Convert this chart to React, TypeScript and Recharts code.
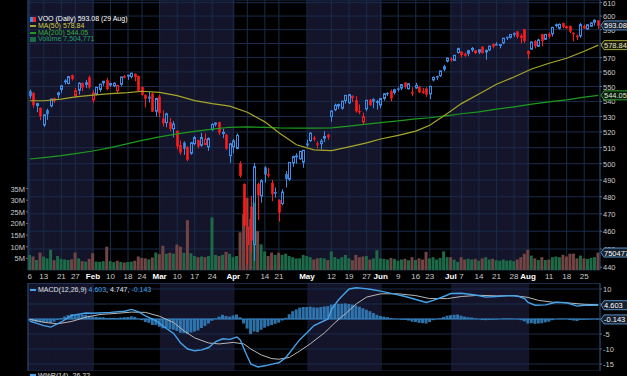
import React from 'react';
import {
  ComposedChart,
  Bar,
  Line,
  XAxis,
  YAxis,
  CartesianGrid,
  ReferenceLine,
  Cell,
} from 'recharts';

// ---------- data (VOO daily, Jan - Aug 2025) ----------
const MONTHS = ['Jan', 'Feb', 'Mar', 'Apr', 'May', 'Jun', 'Jul', 'Aug'];
const TRADING_DAYS = [
  [6, 7, 8, 10, 13, 14, 15, 16, 17, 21, 22, 23, 24, 27, 28, 29, 30, 31],
  [3, 4, 5, 6, 7, 10, 11, 12, 13, 14, 18, 19, 20, 21, 24, 25, 26, 27, 28],
  [3, 4, 5, 6, 7, 10, 11, 12, 13, 14, 17, 18, 19, 20, 21, 24, 25, 26, 27, 28, 31],
  [1, 2, 3, 4, 7, 8, 9, 10, 11, 14, 15, 16, 17, 21, 22, 23, 24, 25, 28, 29, 30],
  [1, 2, 5, 6, 7, 8, 9, 12, 13, 14, 15, 16, 19, 20, 21, 22, 23, 27, 28, 29, 30],
  [2, 3, 4, 5, 6, 9, 10, 11, 12, 13, 16, 17, 18, 20, 23, 24, 25, 26, 27, 30],
  [1, 2, 3, 7, 8, 9, 10, 11, 14, 15, 16, 17, 18, 21, 22, 23, 24, 25, 28, 29, 30, 31],
  [1, 4, 5, 6, 7, 8, 11, 12, 13, 14, 15, 18, 19, 20, 21, 22, 25, 26, 27, 28, 29],
];
const PREV_CLOSE = 540.6;

// open, high, low, close
const CANDLES: [number, number, number, number][] = [
  // Jan
  [546.5, 548.0, 541.8, 543.7], [545.5, 546.2, 535.8, 537.7], [537.2, 539.0, 532.8, 538.5],
  [535.5, 536.0, 527.5, 530.3], [524.5, 531.5, 523.2, 531.1], [534.0, 535.2, 527.8, 531.6],
  [537.0, 542.0, 536.0, 541.5], [541.8, 542.5, 539.0, 540.3], [544.5, 546.5, 542.0, 545.7],
  [548.0, 551.0, 545.5, 550.5], [553.5, 555.0, 551.5, 553.8], [552.0, 556.8, 551.5, 556.8],
  [557.5, 558.2, 554.0, 555.2], [544.0, 549.0, 542.3, 547.1], [547.5, 553.0, 544.5, 552.2],
  [552.0, 552.8, 546.8, 549.5], [551.5, 554.5, 549.0, 552.5], [556.0, 557.5, 548.5, 549.6],
  // Feb
  [541.0, 547.5, 539.0, 545.5], [545.0, 549.8, 544.0, 549.4], [548.0, 551.8, 546.2, 551.6],
  [552.5, 553.8, 550.5, 553.6], [554.0, 555.8, 547.5, 548.4], [551.0, 552.5, 549.8, 552.0],
  [550.5, 552.8, 549.5, 552.2], [547.2, 551.2, 545.0, 550.7], [551.5, 556.8, 550.0, 556.5],
  [556.8, 558.0, 555.5, 556.4], [557.5, 558.0, 554.5, 557.7], [556.8, 559.5, 555.5, 559.1],
  [558.5, 559.0, 553.5, 556.6], [557.0, 557.5, 546.5, 547.2], [549.5, 550.0, 543.8, 544.5],
  [544.0, 544.8, 536.0, 541.9], [543.0, 546.5, 539.2, 542.0], [545.0, 546.0, 533.0, 533.4],
  [533.5, 542.5, 530.0, 541.9],
  // Mar
  [543.0, 544.5, 529.5, 532.4], [528.5, 534.0, 523.5, 525.8], [526.0, 532.5, 523.0, 531.7],
  [526.0, 529.0, 520.5, 522.2], [522.0, 527.0, 516.5, 525.1], [520.5, 521.0, 509.0, 511.0],
  [511.5, 514.5, 505.5, 507.1], [513.0, 514.0, 505.5, 509.5], [510.0, 511.0, 501.5, 502.5],
  [506.5, 513.5, 505.5, 513.1], [512.5, 517.5, 511.5, 516.4], [514.5, 515.0, 509.5, 511.0],
  [511.5, 519.5, 510.5, 516.4], [512.0, 519.0, 511.5, 515.3], [510.5, 516.5, 508.0, 515.8],
  [521.5, 525.5, 520.5, 524.9], [525.0, 526.2, 523.5, 525.7], [526.0, 526.5, 518.0, 519.8],
  [519.0, 522.0, 516.0, 519.8], [518.0, 518.8, 508.5, 509.5], [505.0, 513.0, 500.5, 512.4],
  // Apr
  [510.5, 515.5, 506.5, 514.3], [509.5, 519.0, 509.0, 517.8], [500.0, 501.5, 491.5, 492.7],
  [487.5, 488.0, 462.5, 463.3], [452.5, 479.0, 441.5, 462.2], [474.0, 480.5, 448.0, 454.9],
  [452.5, 500.5, 443.5, 498.2], [487.5, 488.5, 466.5, 481.0], [480.5, 490.5, 476.5, 489.6],
  [497.5, 498.5, 488.5, 493.6], [493.5, 497.5, 491.5, 492.7], [488.0, 490.0, 477.5, 481.7],
  [482.5, 485.5, 479.5, 482.3], [478.0, 478.5, 465.5, 470.9], [476.0, 484.5, 475.0, 482.8],
  [493.5, 495.5, 485.5, 490.8], [490.5, 501.0, 489.5, 500.8], [500.5, 505.0, 498.0, 504.4],
  [504.5, 506.5, 500.0, 504.8], [503.0, 508.0, 502.5, 507.7], [501.0, 508.5, 497.5, 508.4],
  // May
  [512.5, 515.0, 510.5, 511.6], [514.5, 519.8, 513.5, 519.2], [516.0, 517.5, 514.0, 515.8],
  [512.5, 514.0, 509.5, 511.9], [512.5, 515.5, 509.0, 514.1], [516.0, 520.5, 513.5, 517.1],
  [518.0, 518.8, 515.0, 516.8], [530.0, 534.0, 526.5, 533.6], [534.5, 538.5, 533.5, 537.4],
  [537.0, 538.5, 535.0, 537.9], [535.5, 540.5, 534.5, 540.1], [540.5, 544.2, 538.5, 544.0],
  [539.0, 544.8, 538.5, 544.5], [543.5, 544.0, 539.5, 542.3], [540.5, 543.5, 532.5, 533.6],
  [533.5, 538.0, 531.5, 533.4], [526.5, 532.5, 525.0, 529.7], [535.0, 541.0, 533.5, 540.7],
  [541.0, 541.5, 537.0, 537.7], [541.5, 542.0, 535.5, 539.8], [539.5, 541.0, 534.5, 539.8],
  // Jun
  [537.5, 542.0, 535.5, 541.9], [542.0, 545.5, 540.5, 545.1], [545.5, 546.2, 543.5, 545.1],
  [546.5, 548.0, 540.0, 542.2], [546.0, 548.5, 544.5, 547.8], [548.5, 549.5, 546.5, 548.3],
  [549.0, 551.8, 547.5, 551.3], [552.5, 553.0, 548.5, 549.8], [548.5, 552.0, 548.0, 551.9],
  [546.0, 549.5, 543.5, 545.7], [549.0, 552.5, 548.5, 550.8], [549.5, 550.5, 545.5, 546.2],
  [546.5, 549.0, 545.0, 546.1], [548.5, 549.5, 543.0, 544.8], [545.0, 550.5, 541.5, 550.1],
  [554.5, 556.8, 553.5, 556.2], [557.0, 557.5, 554.5, 556.2], [557.5, 561.0, 556.5, 560.7],
  [562.0, 565.0, 560.5, 563.6], [567.5, 570.0, 566.5, 569.6],
  // Jul
  [569.0, 570.2, 567.0, 569.0], [568.0, 571.8, 567.5, 571.6], [573.5, 577.0, 573.0, 576.4],
  [574.0, 574.5, 570.0, 571.9], [572.5, 573.5, 570.5, 571.5], [573.0, 575.5, 571.0, 574.9],
  [575.5, 577.5, 574.0, 576.5], [573.5, 575.5, 572.5, 574.7], [574.0, 576.0, 572.5, 575.5],
  [577.5, 578.0, 573.0, 573.2], [574.0, 575.8, 568.5, 575.0], [575.5, 578.5, 574.5, 578.1],
  [579.5, 580.0, 576.5, 578.0], [579.5, 581.0, 578.5, 578.8], [579.0, 579.5, 576.5, 579.2],
  [580.5, 584.0, 579.5, 583.8], [584.5, 585.0, 582.5, 584.1], [584.5, 586.5, 583.5, 586.5],
  [587.5, 587.8, 584.8, 586.6], [588.5, 588.8, 583.5, 584.9], [585.5, 587.0, 580.0, 584.1],
  [590.0, 590.5, 580.5, 581.9],
  // Aug
  [574.5, 575.0, 569.0, 572.6], [576.0, 581.3, 575.5, 581.1], [581.5, 582.5, 576.5, 578.2],
  [578.0, 583.5, 577.5, 582.5], [586.5, 587.0, 578.0, 582.0], [583.0, 586.8, 582.5, 586.5],
  [586.5, 588.0, 583.5, 585.1], [587.0, 592.0, 585.0, 591.7], [593.5, 594.5, 591.5, 593.6],
  [591.0, 594.5, 590.0, 593.9], [594.5, 595.0, 591.0, 592.1], [591.5, 593.0, 590.5, 592.0],
  [592.5, 593.0, 587.5, 588.6], [587.5, 588.0, 581.5, 587.2], [585.5, 586.5, 582.5, 584.8],
  [585.5, 595.0, 584.0, 593.7], [592.5, 593.8, 590.5, 591.1], [590.5, 593.8, 590.0, 593.6],
  [592.5, 595.5, 592.0, 594.9], [595.5, 597.5, 593.0, 596.9], [596.5, 596.8, 590.5, 593.08],
];

// volume, millions of shares
const VOLUME_M = [
  6.5, 5.8, 4.3, 7.5, 5.8, 5.0, 8.7, 4.2, 6.0, 4.8, 4.5, 4.3, 4.6, 7.5, 5.0, 3.8, 3.6, 4.8,
  7.2, 3.6, 3.5, 3.8, 10.0, 3.8, 3.4, 4.0, 3.5, 3.2, 3.4, 3.6, 4.0, 5.8, 5.2, 5.0, 4.6, 5.4, 7.5,
  6.8, 10.4, 7.0, 7.4, 7.0, 10.9, 10.0, 7.4, 21.4, 7.2, 6.0, 5.5, 5.8, 5.5, 6.0, 22.6, 6.5, 6.0, 6.5, 7.8, 7.0,
  5.5, 6.0, 16.2, 24.0, 31.0, 22.0, 29.0, 16.7, 11.0, 8.0, 6.0, 7.5, 6.5, 7.4, 6.5, 7.0, 6.0, 5.5, 5.0, 5.0, 6.5,
  6.0, 5.5, 4.5, 5.0, 5.2, 5.0, 4.3, 8.0, 5.5, 4.8, 5.5, 6.5, 5.0, 4.2, 6.5, 5.5, 5.8, 6.0, 4.5, 5.0, 8.5,
  5.0, 4.8, 4.5, 5.2, 4.8, 4.0, 4.5, 4.8, 4.2, 5.5, 4.3, 5.0, 4.5, 7.8, 5.0, 5.5, 4.5, 5.2, 8.0, 5.5,
  5.5, 4.5, 3.5, 5.5, 4.5, 4.8, 4.5, 4.8, 4.0, 5.0, 5.5, 4.5, 4.8, 4.2, 4.0, 4.5, 4.0, 4.2, 3.8, 4.5, 5.5, 7.0,
  8.7, 6.2, 5.0, 4.3, 5.5, 4.3, 4.5, 5.5, 5.8, 5.5, 6.5, 5.8, 7.0, 7.0, 5.0, 6.2, 5.0, 4.8, 5.2, 5.5, 7.5,
];

// overlays at weekly points
const MA50_PTS: [string, number][] = [
  ['Jan 6', 540.4], ['Jan 13', 540.4], ['Jan 21', 541.5], ['Jan 27', 543.0], ['Feb 3', 544.2],
  ['Feb 10', 545.2], ['Feb 18', 545.9], ['Feb 24', 546.8], ['Mar 3', 546.0], ['Mar 10', 543.8],
  ['Mar 17', 540.5], ['Mar 24', 538.5], ['Mar 31', 536.8], ['Apr 7', 532.8], ['Apr 14', 526.5],
  ['Apr 21', 519.5], ['Apr 28', 511.8], ['May 5', 508.6], ['May 12', 508.2], ['May 19', 510.5],
  ['May 27', 513.0], ['Jun 2', 515.5], ['Jun 9', 517.8], ['Jun 16', 520.5], ['Jun 23', 524.3],
  ['Jun 30', 532.0], ['Jul 7', 538.5], ['Jul 14', 545.0], ['Jul 21', 551.5], ['Jul 28', 556.5],
  ['Aug 4', 562.0], ['Aug 11', 566.0], ['Aug 18', 569.5], ['Aug 25', 574.5], ['Aug 29', 578.84],
];
const MA200_PTS: [string, number][] = [
  ['Jan 6', 502.9], ['Jan 13', 503.8], ['Jan 21', 505.0], ['Jan 27', 506.3], ['Feb 3', 507.9],
  ['Feb 10', 510.0], ['Feb 18', 512.5], ['Feb 24', 514.6], ['Mar 3', 516.8], ['Mar 10', 518.8],
  ['Mar 17', 520.3], ['Mar 24', 521.8], ['Mar 31', 523.0], ['Apr 7', 523.2], ['Apr 14', 522.9],
  ['Apr 21', 522.6], ['Apr 28', 522.5], ['May 5', 522.5], ['May 12', 522.6], ['May 19', 523.8],
  ['May 27', 525.0], ['Jun 2', 526.0], ['Jun 9', 527.2], ['Jun 16', 528.4], ['Jun 23', 529.2],
  ['Jun 30', 530.6], ['Jul 7', 531.8], ['Jul 14', 533.0], ['Jul 21', 534.8], ['Jul 28', 536.4],
  ['Aug 4', 538.2], ['Aug 11', 539.6], ['Aug 18', 541.0], ['Aug 25', 542.8], ['Aug 29', 544.05],
];
const MACD_PTS: [string, number][] = [
  ['Jan 6', -0.7], ['Jan 13', -2.2], ['Jan 15', -2.7], ['Jan 21', -1.0], ['Jan 24', 1.2],
  ['Jan 30', 2.0], ['Feb 3', 1.9], ['Feb 10', 2.2], ['Feb 14', 2.6], ['Feb 19', 3.2],
  ['Feb 21', 2.4], ['Feb 25', 1.0], ['Feb 28', -0.6], ['Mar 4', -2.4], ['Mar 7', -4.8],
  ['Mar 11', -8.0], ['Mar 13', -10.0], ['Mar 17', -10.6], ['Mar 19', -10.3], ['Mar 21', -9.5],
  ['Mar 25', -7.5], ['Mar 27', -6.6], ['Mar 31', -6.8], ['Apr 2', -6.0], ['Apr 3', -7.0],
  ['Apr 4', -9.8], ['Apr 7', -12.5], ['Apr 8', -15.0], ['Apr 10', -16.0], ['Apr 14', -15.6],
  ['Apr 17', -14.8], ['Apr 21', -14.6], ['Apr 23', -12.8], ['Apr 25', -9.8], ['Apr 29', -6.8],
  ['May 1', -4.6], ['May 5', -2.2], ['May 9', 0.0], ['May 12', 3.2], ['May 14', 6.4],
  ['May 16', 8.8], ['May 19', 10.0], ['May 21', 10.4], ['May 23', 10.2], ['May 28', 9.9],
  ['Jun 2', 9.3], ['Jun 6', 8.3], ['Jun 11', 7.5], ['Jun 16', 6.5],
  ['Jun 20', 5.5], ['Jun 24', 6.2], ['Jun 27', 7.5], ['Jul 1', 8.5], ['Jul 7', 8.6],
  ['Jul 11', 8.0], ['Jul 16', 7.3], ['Jul 21', 7.5], ['Jul 25', 7.8], ['Jul 29', 7.6],
  ['Jul 31', 6.8], ['Aug 1', 5.5], ['Aug 5', 4.6], ['Aug 8', 4.7], ['Aug 13', 5.6],
  ['Aug 18', 5.4], ['Aug 21', 4.3], ['Aug 25', 4.6], ['Aug 29', 4.603],
];
const SIGNAL_PTS: [string, number][] = [
  ['Jan 6', -0.1], ['Jan 13', -1.1], ['Jan 17', -1.6], ['Jan 24', -0.8], ['Jan 30', 0.6],
  ['Feb 5', 1.5], ['Feb 12', 1.9], ['Feb 19', 2.3], ['Feb 25', 2.2], ['Mar 3', 0.9],
  ['Mar 7', -1.2], ['Mar 12', -4.0], ['Mar 17', -6.3], ['Mar 21', -8.0], ['Mar 26', -8.3],
  ['Apr 1', -7.8], ['Apr 4', -8.3], ['Apr 8', -10.0], ['Apr 11', -12.0], ['Apr 16', -13.2],
  ['Apr 21', -13.4], ['Apr 24', -12.8], ['Apr 29', -10.6], ['May 2', -8.2], ['May 8', -4.6],
  ['May 13', -1.2], ['May 16', 1.8], ['May 21', 5.0], ['May 27', 7.3], ['Jun 2', 8.4],
  ['Jun 9', 8.4], ['Jun 16', 7.8], ['Jun 23', 6.8], ['Jun 30', 6.8], ['Jul 7', 7.5],
  ['Jul 14', 7.9], ['Jul 21', 7.7], ['Jul 28', 7.8], ['Aug 1', 7.2], ['Aug 6', 6.2],
  ['Aug 12', 5.6], ['Aug 18', 5.4], ['Aug 25', 4.9], ['Aug 29', 4.747],
];
const HISTOGRAM = [
  -0.6, -0.8, -1.0, -1.1, -1.1, -1.2, -1.3, -0.9, -0.3, 0.3, 0.8, 1.3, 1.6, 1.4, 1.6, 1.5, 1.4, 1.1,
  0.8, 0.7, 0.6, 0.6, 0.3, 0.4, 0.4, 0.3, 0.5, 0.6, 0.7, 0.9, 0.7, 0.1, -0.4, -1.0, -1.3, -2.0, -2.0,
  -2.6, -3.1, -3.0, -3.4, -3.6, -4.0, -4.6, -4.7, -5.0, -4.5, -4.2, -3.8, -3.0, -2.3, -1.5, -0.6, 0.2, 0.8, 1.4, 1.0, 0.8,
  1.2, 1.5, 0.6, -1.5, -3.2, -5.0, -4.2, -4.4, -3.6, -2.9, -2.4, -2.0, -1.6, -1.2, -0.5, 0.4, 1.6, 2.6, 3.2, 3.8, 4.0,
  4.0, 4.1, 3.9, 3.8, 4.0, 4.2, 4.3, 4.8, 5.0, 5.1, 5.1, 5.2, 5.0, 4.8, 4.5, 4.1, 3.6, 3.1, 2.6, 2.0, 1.4,
  1.0, 0.8, 0.6, 0.3, 0.1, 0.0, -0.2, -0.3, -0.5, -0.9, -1.0, -1.3, -1.4, -1.5, -1.0, -0.4, -0.1, 0.3, 0.7, 1.1,
  1.3, 1.4, 1.5, 1.1, 0.8, 0.6, 0.5, 0.2, 0.0, -0.3, -0.4, -0.3, -0.3, -0.2, 0.0, 0.2, 0.2, 0.2, 0.1, -0.1, -0.4, -0.8,
  -1.5, -1.4, -1.6, -1.5, -1.4, -1.1, -0.9, -0.4, 0.0, 0.1, 0.1, 0.0, -0.3, -0.5, -0.7, -0.3, -0.3, -0.2, -0.1, 0.0, -0.143,
];

const X_TICKS = [
  'Jan 6', 'Jan 13', 'Jan 21', 'Jan 27', 'Feb 3', 'Feb 10', 'Feb 18', 'Feb 24', 'Mar 3', 'Mar 10',
  'Mar 17', 'Mar 24', 'Apr 1', 'Apr 7', 'Apr 14', 'Apr 21', 'May 1', 'May 12', 'May 19', 'May 27',
  'Jun 2', 'Jun 9', 'Jun 16', 'Jun 23', 'Jul 1', 'Jul 7', 'Jul 14', 'Jul 21', 'Jul 28', 'Aug 1',
  'Aug 11', 'Aug 18', 'Aug 25',
];
const PRICE_TICKS = [440, 450, 460, 470, 480, 490, 500, 510, 520, 530, 540, 550, 560, 570, 580, 590, 600, 610];
const VOL_TICKS = [5, 10, 15, 20, 25, 30, 35];
const MACD_TICKS = [10, 5, 0, -5, -10, -15];
// tick labels that sit fully under a value tag
const HIDDEN_PRICE = [580];
const HIDDEN_MACD = [5, 0];

// ---------- table for the charts ----------
const DATES = MONTHS.flatMap((m, i) => TRADING_DAYS[i].map((d) => `${m} ${d}`));
const ma50 = new Map(MA50_PTS);
const ma200 = new Map(MA200_PTS);
const macd = new Map(MACD_PTS);
const signal = new Map(SIGNAL_PTS);

const rows = DATES.map((date, i) => {
  const [o, h, l, c] = CANDLES[i];
  const prev = i === 0 ? PREV_CLOSE : CANDLES[i - 1][3];
  const month = MONTHS.indexOf(date.split(' ')[0]);
  return {
    date,
    o, h, l, c,
    hl: [l, h],
    up: c >= prev,
    vol: VOLUME_M[i],
    ma50: ma50.get(date),
    ma200: ma200.get(date),
    macd: macd.get(date),
    signal: signal.get(date),
    hist: HISTOGRAM[i],
    band: month % 2 === 0 ? 1 : 0,
    first: i === 0,
  };
});

const tickLabel = (date: string) => {
  const [m, d] = date.split(' ');
  const mi = MONTHS.indexOf(m);
  return mi > 0 && TRADING_DAYS[mi][0] === Number(d) ? m : d;
};

// ---------- look ----------
const W = 627;
const H = 376;
const MAIN_H = 283;
const MACD_TOP = 283;
const MACD_H = 88;
const LEFT_W = 28;
const RIGHT_W = 27;
const FONT = '"Liberation Sans", Arial, sans-serif';
const NAVY = '#14142b';
const GRID = '#1a2c4a';
const EDGE = '#27426a';
const BLUE = '#3d8ee8';
const RED = '#ff1c1c';
const MA50_C = '#a6a62a';
const MA200_C = '#1e9a1e';
const VOL_UP = '#1c6a47';
const VOL_DOWN = '#724545';
const MACD_C = '#45a3ea';
const SIGNAL_C = '#b8b8b8';
const HIST_C = '#3585c5';
const TICK_C = '#c8c8c8';

const DateTick = (props: any) => {
  const { x, y, payload } = props;
  const label = tickLabel(payload.value);
  const isMonth = MONTHS.includes(label);
  return (
    <text x={x} y={y + 9} textAnchor="middle" fontFamily={FONT} fontSize={8}
      fontWeight={isMonth ? 700 : 400} fill={isMonth ? '#ffffff' : TICK_C}>
      {label}
    </text>
  );
};

const RightTick = (props: any) => {
  const { x, y, payload, hidden } = props;
  if (hidden && hidden.includes(payload.value)) return <g />;
  return (
    <text x={x} y={y + 3} textAnchor="start" fontFamily={FONT} fontSize={7.5} fill={TICK_C}>
      {payload.value}
    </text>
  );
};

const VolTick = (props: any) => {
  const { x, y, payload } = props;
  return (
    <text x={x} y={y + 3} textAnchor="end" fontFamily={FONT} fontSize={7.5} fill={TICK_C}>
      {`${payload.value}M`}
    </text>
  );
};

const Tag = (props: any) => {
  const { viewBox, text, border, fill, color } = props;
  if (!viewBox) return null;
  const x = viewBox.x + viewBox.width + 1;
  const y = viewBox.y;
  return (
    <g>
      <path d={`M${x},${y} L${x + 3},${y - 4.5} H${x + 40} V${y + 4.5} H${x + 3} Z`}
        fill={fill} stroke={border} strokeWidth={1} />
      <text x={x + 3} y={y + 3} fontFamily={FONT} fontSize={7.5} fill={color}>{text}</text>
    </g>
  );
};

const Candle = (props: any) => {
  const { x, y, width, height, payload } = props;
  if (!payload || !Number.isFinite(y) || !Number.isFinite(height)) return null;
  const top = Math.min(y, y + height);
  const span = Math.abs(height);
  const { o, h, l, c, up } = payload;
  const color = up ? BLUE : RED;
  const lnH = Math.log(h);
  const lnL = Math.log(l);
  const toY = (v: number) => top + (span * (lnH - Math.log(v))) / (lnH - lnL || 1);
  const cx = Math.round(x + width / 2) + 0.5;
  const bTop = toY(Math.max(o, c));
  const bBot = toY(Math.min(o, c));
  const hollow = c > o;
  return (
    <g>
      <line x1={cx} x2={cx} y1={top} y2={bTop} stroke={color} strokeWidth={1} />
      <line x1={cx} x2={cx} y1={bBot} y2={top + span} stroke={color} strokeWidth={1} />
      <rect x={cx - 1} y={bTop} width={2} height={Math.max(bBot - bTop, 0.8)}
        fill={hollow ? 'none' : color} stroke={color} strokeWidth={hollow ? 1 : 0.6} />
    </g>
  );
};

// navy stripe for every other month, from the centre of its first day
const MonthBand = (props: any) => {
  const { x, y, width, height, payload } = props;
  if (!payload || !payload.band) return null;
  const left = payload.first ? x : x + width / 2;
  const right = x + width * 1.5;
  return <rect x={left} y={y} width={right - left + 0.4} height={height} fill={NAVY} />;
};

const mainAxes = (show: boolean) => [
  <XAxis key="x" dataKey="date" scale="band" ticks={X_TICKS} interval={0} height={13}
    tickLine={false} tickSize={0} tickMargin={0} axisLine={false}
    tick={show ? <DateTick /> : false} />,
  <YAxis key="v" yAxisId="vol" orientation="left" width={LEFT_W} domain={[0, 116]}
    ticks={VOL_TICKS} interval={0} allowDataOverflow tickSize={2} tickMargin={1}
    tickLine={show ? { stroke: '#666' } : false}
    tick={show ? <VolTick /> : false}
    axisLine={show ? { stroke: EDGE } : false} />,
  <YAxis key="p" yAxisId="price" orientation="right" width={RIGHT_W} scale="log"
    domain={[438.5, 612]} ticks={PRICE_TICKS} interval={0} allowDataOverflow tickSize={2} tickMargin={1}
    tickLine={show ? { stroke: '#666' } : false}
    tick={show ? <RightTick hidden={HIDDEN_PRICE} /> : false}
    axisLine={show ? { stroke: EDGE } : false} />,
];

const macdAxes = (show: boolean) => [
  <XAxis key="x" dataKey="date" scale="band" ticks={X_TICKS} interval={0} height={0}
    tickLine={false} axisLine={false} tick={false} />,
  <YAxis key="l" yAxisId="left" orientation="left" width={LEFT_W} tick={false}
    tickLine={false} axisLine={show ? { stroke: EDGE } : false} />,
  <YAxis key="m" yAxisId="macd" orientation="right" width={RIGHT_W}
    domain={[-17.33, 12]} ticks={MACD_TICKS} interval={0} allowDataOverflow tickSize={2} tickMargin={1}
    tickLine={show ? { stroke: '#666' } : false}
    tick={show ? <RightTick hidden={HIDDEN_MACD} /> : false}
    axisLine={show ? { stroke: EDGE } : false} />,
];

const margin = { top: 0, right: 0, bottom: 0, left: 0 };
const layer = (top: number): React.CSSProperties => ({ position: 'absolute', left: 0, top });

const Swatch = ({ color, kind }: { color: string; kind: 'line' | 'bar' | 'candle' }) => (
  <span style={{
    display: 'inline-block', width: 6, height: kind === 'line' ? 2 : 5,
    background: kind === 'candle' ? `linear-gradient(90deg, ${BLUE} 50%, ${RED} 50%)` : color,
    marginRight: 2, verticalAlign: 'middle',
  }} />
);

export default function App() {
  return (
    <div style={{ position: 'fixed', left: 0, top: 0, width: W, height: H, background: '#000', overflow: 'hidden' }}>
      {/* price + volume panel */}
      <div style={layer(0)}>
        <ComposedChart width={W} height={MAIN_H} data={rows} margin={margin} barCategoryGap={0}>
          {mainAxes(false)}
          <YAxis yAxisId="band" hide domain={[0, 1]} />
          <Bar yAxisId="band" dataKey="band" shape={<MonthBand />} isAnimationActive={false} />
        </ComposedChart>
      </div>
      <div style={layer(0)}>
        <ComposedChart width={W} height={MAIN_H} data={rows} margin={margin}>
          <CartesianGrid yAxisId="price" stroke={GRID} strokeWidth={1} />
          {mainAxes(true)}
          <Bar yAxisId="vol" dataKey="vol" barSize={3} isAnimationActive={false}>
            {rows.map((r, i) => (
              <Cell key={`v-${i}`} fill={r.up ? VOL_UP : VOL_DOWN} />
            ))}
          </Bar>
        </ComposedChart>
      </div>
      <div style={layer(0)}>
        <ComposedChart width={W} height={MAIN_H} data={rows} margin={margin}>
          {mainAxes(false)}
          <Line yAxisId="price" dataKey="ma200" stroke={MA200_C} strokeWidth={1.2} dot={false}
            connectNulls isAnimationActive={false} />
          <Line yAxisId="price" dataKey="ma50" stroke={MA50_C} strokeWidth={1.2} dot={false}
            connectNulls isAnimationActive={false} />
          <Bar yAxisId="price" dataKey="hl" barSize={3} shape={<Candle />} isAnimationActive={false} />
          <ReferenceLine yAxisId="vol" y={7.504771} stroke="none"
            label={<Tag text="7504771" border="#5b8fc4" fill="#16202e" color="#ffffff" />} />
          <ReferenceLine yAxisId="price" y={544.05} stroke="none"
            label={<Tag text="544.05" border="#34a034" fill="#0c1a0c" color="#d8ecd8" />} />
          <ReferenceLine yAxisId="price" y={578.84} stroke="none"
            label={<Tag text="578.84" border="#a6a63c" fill="#1a1a0a" color="#e4e4c4" />} />
          <ReferenceLine yAxisId="price" y={593.08} stroke="none"
            label={<Tag text="593.08" border="#5b8fc4" fill="#16202e" color="#ffffff" />} />
        </ComposedChart>
      </div>

      {/* MACD panel */}
      <div style={layer(MACD_TOP)}>
        <ComposedChart width={W} height={MACD_H} data={rows} margin={margin} barCategoryGap={0}>
          {macdAxes(false)}
          <YAxis yAxisId="band" hide domain={[0, 1]} />
          <Bar yAxisId="band" dataKey="band" shape={<MonthBand />} isAnimationActive={false} />
        </ComposedChart>
      </div>
      <div style={layer(MACD_TOP)}>
        <ComposedChart width={W} height={MACD_H} data={rows} margin={margin}>
          <CartesianGrid yAxisId="macd" stroke={GRID} strokeWidth={1} />
          {macdAxes(true)}
          <Bar yAxisId="macd" dataKey="hist" barSize={3} fill={HIST_C} fillOpacity={0.85}
            isAnimationActive={false} />
          <ReferenceLine yAxisId="macd" y={0} stroke={HIST_C} strokeWidth={1} />
          <ReferenceLine yAxisId="macd" y={12} stroke={EDGE} strokeWidth={1} />
        </ComposedChart>
      </div>
      <div style={layer(MACD_TOP)}>
        <ComposedChart width={W} height={MACD_H} data={rows} margin={margin}>
          {macdAxes(false)}
          <Line yAxisId="macd" dataKey="signal" stroke={SIGNAL_C} strokeWidth={1} dot={false}
            connectNulls isAnimationActive={false} />
          <Line yAxisId="macd" dataKey="macd" stroke={MACD_C} strokeWidth={1.4} dot={false}
            connectNulls isAnimationActive={false} />
          <ReferenceLine yAxisId="macd" y={-0.143} stroke="none"
            label={<Tag text="-0.143" border="#5b8fc4" fill="#16202e" color="#ffffff" />} />
          <ReferenceLine yAxisId="macd" y={4.603} stroke="none"
            label={<Tag text="4.603" border="#5b8fc4" fill="#16202e" color="#ffffff" />} />
        </ComposedChart>
      </div>

      {/* legends */}
      <div style={{ position: 'absolute', left: 30, top: 16, fontFamily: FONT, fontSize: 7, lineHeight: '6.8px', whiteSpace: 'nowrap' }}>
        <div style={{ color: '#ffffff' }}><Swatch color={BLUE} kind="candle" />VOO (Daily) 593.08 (29 Aug)</div>
        <div style={{ color: '#d0d044' }}><Swatch color={MA50_C} kind="line" />MA(50) 578.84</div>
        <div style={{ color: '#36b036' }}><Swatch color={MA200_C} kind="line" />MA(200) 544.05</div>
        <div style={{ color: '#22a063' }}><Swatch color={VOL_UP} kind="bar" />Volume 7,504,771</div>
      </div>
      <div style={{ position: 'absolute', left: 30, top: 286, fontFamily: FONT, fontSize: 7, lineHeight: '7px', whiteSpace: 'nowrap', color: '#e0e0e0' }}>
        <Swatch color={MACD_C} kind="line" />MACD(12,26,9) <span style={{ color: MACD_C }}>4.603</span>, 4.747, <span style={{ color: MACD_C }}>-0.143</span>
      </div>
      <div style={{ position: 'absolute', left: 30, top: 372, fontFamily: FONT, fontSize: 7, lineHeight: '7px', whiteSpace: 'nowrap', color: '#e0e0e0' }}>
        <Swatch color={MACD_C} kind="bar" />W%R(14) -26.22
      </div>
    </div>
  );
}
